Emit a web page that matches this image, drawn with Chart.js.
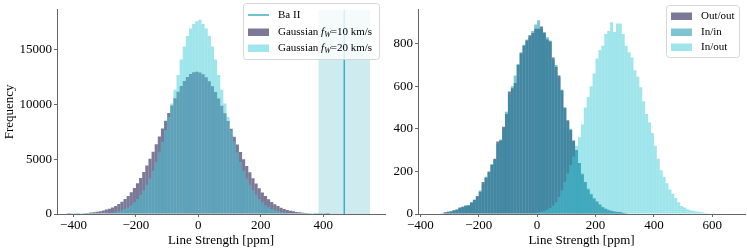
<!DOCTYPE html>
<html>
<head>
<meta charset="utf-8">
<script src="https://cdn.jsdelivr.net/npm/chart.js@4.4.0/dist/chart.umd.min.js"></script>
<style>
    html, body { margin: 0; padding: 0; background: #fff; }
    #wrap { position: relative; width: 747px; height: 249px; overflow: hidden; }
    .box { position: absolute; top: 0; height: 249px; }
    #leftBox { left: 0; width: 390px; }
    #rightBox { left: 376px; width: 371px; }
</style>
</head>
<body>
<div id="wrap">
    <div class="box" id="leftBox"><canvas id="leftChart" width="390" height="249"></canvas></div>
    <div class="box" id="rightBox"><canvas id="rightChart" width="371" height="249"></canvas></div>
</div>
<script>
// ---- data (histogram counts, 10 ppm bins) ----
const binWidth = 10;

// left panel: bins start at -420 ppm
const leftBinStart = -420;
const gauss10 = [10, 15, 22, 32, 46, 68, 95, 130, 168, 208, 260, 325, 400, 490, 600, 740, 910, 1115, 1365, 1655,
    1990, 2375, 2810, 3295, 3835, 4420, 5040, 5690, 6370, 7080, 7800, 8520, 9230, 9915, 10565, 11165, 11700, 12155, 12520, 12785,
    12945, 12995, 12930, 12760, 12490, 12120, 11665, 11140, 10545, 9895, 9210, 8500, 7780, 7060, 6350, 5665, 5010, 4390, 3810, 3275,
    2790, 2355, 1970, 1635, 1345, 1100, 890, 720, 580, 465, 370, 300, 240, 190, 150, 115, 88, 65, 48, 34,
    24, 17, 12, 8];
const gauss20 = [0, 0, 0, 1, 1, 2, 4, 6, 10, 15, 24, 36, 54, 80, 118, 170, 240, 330, 450, 610,
    810, 1070, 1380, 1750, 2180, 2680, 3250, 3950, 4750, 5650, 6600, 7650, 8850, 10100, 11350, 12700, 14100, 15300, 16250, 16950,
    17350, 17600, 17750, 17350, 16950, 16250, 15300, 14100, 12700, 11350, 10100, 8850, 7650, 6600, 5650, 4750, 3950, 3250, 2680, 2180,
    1750, 1380, 1070, 810, 610, 450, 330, 240, 170, 118, 80, 54, 36, 24, 15, 10, 6, 4, 2, 1,
    1, 0, 0, 0];
const baIILine = 467.5;
const baIIBand = [385, 550];

// right panel
const outOutStart = -330;
const outOut = [3, 8, 10, 12, 18, 20, 30, 33, 40, 40, 55, 66, 85, 105, 150, 170, 200, 230, 260, 340,
    345, 410, 470, 575, 590, 615, 700, 755, 790, 815, 840, 850, 870, 870, 880, 850, 820, 810, 735, 690,
    650, 580, 500, 440, 395, 345, 300, 240, 185, 150, 115, 92, 72, 58, 45, 32, 25, 18, 15, 12,
    9, 8, 5, 3];
const inIn = [2, 6, 10, 14, 16, 22, 28, 35, 38, 42, 52, 68, 80, 110, 140, 175, 195, 235, 255, 330,
    350, 400, 480, 560, 600, 650, 705, 760, 795, 820, 830, 860, 890, 910, 870, 855, 830, 815, 725, 700,
    640, 585, 495, 435, 400, 340, 295, 238, 190, 148, 120, 95, 75, 60, 44, 33, 24, 20, 14, 11,
    10, 9, 6, 2];
const inOutStart = -40;
const inOut = [1, 2, 3, 5, 7, 10, 14, 20, 28, 40, 55, 80, 110, 150, 190, 230, 270, 320, 360, 420,
    500, 550, 600, 660, 730, 770, 790, 845, 860, 900, 855, 895, 895, 845, 790, 760, 735, 675, 645, 595,
    530, 470, 430, 380, 320, 260, 205, 175, 145, 115, 95, 75, 55, 38, 30, 22, 18, 15, 13, 10,
    8, 5, 4, 2, 1];

// ticks
const leftXTicks = [-400, -200, 0, 200, 400];
const leftYTicks = [0, 5000, 10000, 15000];
const rightXTicks = [-400, -200, 0, 200, 400, 600];
const rightYTicks = [0, 200, 400, 600, 800];

// ---- styles ----
const purple = 'rgba(62, 58, 102, 0.68)';
const cyan = 'rgba(61, 203, 217, 0.5)';
const teal = 'rgba(20, 150, 172, 0.55)';
const lineColor = '#3aafc4';
const bandColor = 'rgba(58, 175, 196, 0.25)';
const axisColor = '#666';
const serif = '"Liberation Serif", "Times New Roman", serif';

Chart.defaults.font.family = serif;
Chart.defaults.font.size = 13;
Chart.defaults.color = '#000';

function toBins(start, counts) {
    return counts.map((c, i) => ({ x: start + binWidth * (i + 0.5), y: c }));
}

function fmt(v) {
    return v < 0 ? '\u2212' + Math.abs(v) : String(v);
}

function histSet(label, start, counts, color, order) {
    return {
        label: label,
        data: toBins(start, counts),
        backgroundColor: color,
        borderWidth: 0,
        barPercentage: 1,
        categoryPercentage: 1,
        grouped: false,
        inflateAmount: 0,
        order: order
    };
}

function axes(xMin, xMax, yMax, xTicks, yTicks, yWidth, yTitle) {
    return {
        x: {
            type: 'linear', min: xMin, max: xMax, offset: false,
            afterBuildTicks: s => { s.ticks = xTicks.map(v => ({ value: v })); },
            afterFit: s => { s.height = 35; },
            grid: { display: true, drawOnChartArea: false, drawTicks: true, tickLength: 3, color: axisColor, offset: false },
            border: { display: true, color: axisColor, width: 1 },
            ticks: { callback: fmt, padding: 1, maxRotation: 0, autoSkip: false },
            title: { display: true, text: 'Line Strength [ppm]', padding: { top: 0, bottom: 1 } }
        },
        y: {
            type: 'linear', min: 0, max: yMax,
            afterBuildTicks: s => { s.ticks = yTicks.map(v => ({ value: v })); },
            afterFit: s => { s.width = yWidth; },
            grid: { display: true, drawOnChartArea: false, drawTicks: true, tickLength: 3, color: axisColor },
            border: { display: true, color: axisColor, width: 1 },
            ticks: { callback: fmt, padding: 2, autoSkip: false },
            title: { display: !!yTitle, text: yTitle || '', padding: { top: 2, bottom: 2 } }
        }
    };
}

// Ba II band and line
const bandPlugin = {
    id: 'baBand',
    beforeDatasetsDraw(chart, args, opts) {
        if (!opts.band) return;
        const { ctx, chartArea, scales } = chart;
        const x1 = scales.x.getPixelForValue(opts.band[0]);
        const x2 = scales.x.getPixelForValue(opts.band[1]);
        ctx.save();
        ctx.fillStyle = bandColor;
        ctx.fillRect(x1, chartArea.top, x2 - x1, chartArea.bottom - chartArea.top);
        ctx.restore();
    },
    afterDatasetsDraw(chart, args, opts) {
        if (opts.line == null) return;
        const { ctx, chartArea, scales } = chart;
        const x = scales.x.getPixelForValue(opts.line);
        ctx.save();
        ctx.strokeStyle = lineColor;
        ctx.lineWidth = 1.5;
        ctx.beginPath();
        ctx.moveTo(x, chartArea.top);
        ctx.lineTo(x, chartArea.bottom);
        ctx.stroke();
        ctx.restore();
    }
};

// legend drawn by hand so the f_W subscript can be shown
const legendPlugin = {
    id: 'histLegend',
    afterDraw(chart, args, opts) {
        if (!opts.items) return;
        const ctx = chart.ctx;
        const b = opts.box;
        ctx.save();
        ctx.beginPath();
        ctx.roundRect(b.x + 0.5, b.y + 0.5, b.w, b.h, 3);
        ctx.fillStyle = 'rgba(255,255,255,0.8)';
        ctx.fill();
        ctx.strokeStyle = '#d6d6d6';
        ctx.lineWidth = 1;
        ctx.stroke();

        opts.items.forEach(item => {
            if (item.kind === 'line') {
                ctx.strokeStyle = item.color;
                ctx.lineWidth = 1.5;
                ctx.beginPath();
                ctx.moveTo(b.x + 5, item.y);
                ctx.lineTo(b.x + 26, item.y);
                ctx.stroke();
            } else {
                ctx.fillStyle = item.color;
                ctx.fillRect(b.x + 5, item.y - 3.5, 21, 7.5);
            }
            let x = b.x + 35;
            ctx.fillStyle = '#000';
            ctx.textBaseline = 'middle';
            item.parts.forEach(p => {
                ctx.font = (p.italic ? 'italic ' : '') + (p.sub ? 8 : 11) + 'px ' + serif;
                ctx.fillText(p.text, x, item.y + (p.sub ? 3 : 0));
                x += ctx.measureText(p.text).width;
            });
        });
        ctx.restore();
    }
};

function gaussLabel(speed) {
    return [
        { text: 'Gaussian ' },
        { text: 'f', italic: true },
        { text: 'W', italic: true, sub: true },
        { text: '=' + speed + ' km/s' }
    ];
}

new Chart(document.getElementById('leftChart'), {
    type: 'bar',
    data: {
        datasets: [
            histSet('Gaussian 10 km/s', leftBinStart, gauss10, purple, 2),
            histSet('Gaussian 20 km/s', leftBinStart, gauss20, cyan, 1)
        ]
    },
    plugins: [bandPlugin, legendPlugin],
    options: {
        responsive: false,
        animation: false,
        layout: { padding: { top: 2, right: 5, left: 0, bottom: 0 } },
        scales: axes(-453, 598, 18650, leftXTicks, leftYTicks, 57, 'Frequency'),
        plugins: {
            legend: { display: false },
            tooltip: { enabled: false },
            baBand: { band: baIIBand, line: baIILine },
            histLegend: {
                box: { x: 243, y: 3, w: 136, h: 56 },
                items: [
                    { kind: 'line', color: lineColor, y: 15, parts: [{ text: 'Ba II' }] },
                    { kind: 'patch', color: purple, y: 32, parts: gaussLabel(10) },
                    { kind: 'patch', color: cyan, y: 48, parts: gaussLabel(20) }
                ]
            }
        }
    }
});

new Chart(document.getElementById('rightChart'), {
    type: 'bar',
    data: {
        datasets: [
            histSet('Out/out', outOutStart, outOut, purple, 3),
            histSet('In/in', outOutStart, inIn, teal, 2),
            histSet('In/out', inOutStart, inOut, cyan, 1)
        ]
    },
    plugins: [legendPlugin],
    options: {
        responsive: false,
        animation: false,
        layout: { padding: { top: 2, right: 2, left: 0, bottom: 0 } },
        scales: axes(-408, 712, 959, rightXTicks, rightYTicks, 42, null),
        plugins: {
            legend: { display: false },
            tooltip: { enabled: false },
            histLegend: {
                box: { x: 290, y: 5, w: 73, h: 52 },
                items: [
                    { kind: 'patch', color: purple, y: 16, parts: [{ text: 'Out/out' }] },
                    { kind: 'patch', color: teal, y: 32, parts: [{ text: 'In/in' }] },
                    { kind: 'patch', color: cyan, y: 47, parts: [{ text: 'In/out' }] }
                ]
            }
        }
    }
});
</script>
</body>
</html>
